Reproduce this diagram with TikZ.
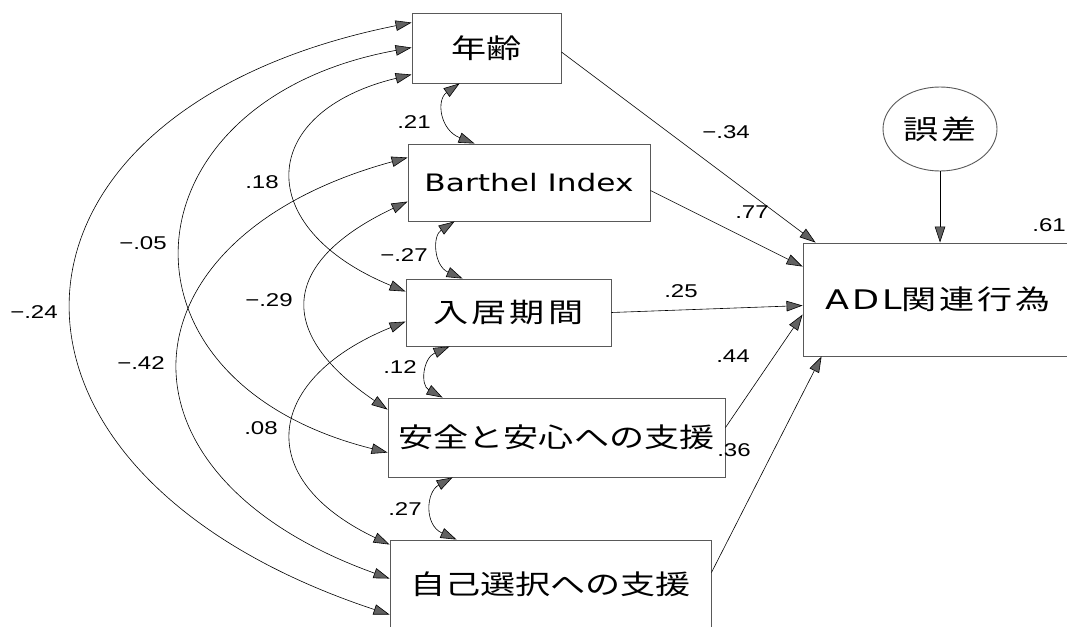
\documentclass[tikz,border=0pt]{standalone}
\usepackage{fontspec}
\usetikzlibrary{arrows.meta,shapes.geometric,calc}
\newfontfamily\jpf[FakeStretch=1.3]{Noto Sans CJK JP}
\newfontfamily\jpfw[FakeStretch=1.3,LetterSpace=11]{Noto Sans CJK JP}
\newfontfamily\latf[FakeStretch=1.3]{DejaVu Sans}
\newfontfamily\latfw[FakeStretch=1.3,LetterSpace=11]{DejaVu Sans}
\newfontfamily\numf[FakeStretch=1.3]{Liberation Sans}
\begin{document}
\begin{tikzpicture}[x=1pt,y=-1pt,
  >={Triangle[length=16pt,width=10.5pt,fill=black!62]},
  box/.style={draw=black!65,line width=0.9pt,inner sep=0pt,font=\jpf\fontsize{27}{30}\selectfont},
  lab/.style={inner sep=0pt,font=\numf\fontsize{18.5}{20}\selectfont},
  pth/.style={line width=0.6pt,->},
  cov/.style={line width=0.6pt,<->}]
\useasboundingbox (0,0) rectangle (1067,626);
\fill[white] (0,0) rectangle (1067,626);
% variables
\node[box,minimum width=149pt,minimum height=70pt] (nen) at (486.5,48) {年齢};
\node[box,minimum width=242pt,minimum height=77pt] (bar) at (529,182.5) {\latf\fontsize{24}{28}\selectfont Barthel Index};
\node[box,minimum width=205pt,minimum height=67pt] (nyu) at (508.5,312.5) {\jpfw 入居期間};
\node[box,minimum width=337pt,minimum height=79pt] (anz) at (556.5,437.5) {安全と安心への支援};
\node[box,minimum width=321pt,minimum height=88pt] (jik) at (550.5,584) {自己選択への支援};
\node[box,minimum width=270pt,minimum height=113pt] (adl) at (938,299.5) {{\latfw ADL}\jpfw 関連行為};
\node[box,ellipse,minimum width=114pt,minimum height=84pt] (err) at (940,129) {\jpfw 誤差};
% paths
\draw[pth] ($(nen.east)+(0,4)$) -- ($(adl.north west)+(13,0)$);
\draw[pth] ($(bar.east)+(0,8)$) -- ($(adl.north west)+(0,24)$);
\draw[pth] (nyu.east) -- ($(adl.north west)+(0,63)$);
\draw[pth] ($(anz.north east)+(0,30)$) -- ($(adl.north west)+(0,72)$);
\draw[pth] ($(jik.north east)+(0,33)$) -- ($(adl.south west)+(19,0)$);
\draw[pth] (err.south) -- (err.south |- adl.north);
% long covariances
\draw[cov] ($(nen.north west)+(0,10)$) .. controls (-25,110) and (-47,470) .. ($(jik.north west)+(0,75)$);
\draw[cov] ($(nen.north west)+(0,35)$) .. controls (122,100) and (98,380) .. ($(anz.north west)+(0,55)$);
\draw[cov] ($(nen.north west)+(0,62)$) .. controls (257,112) and (251,228) .. ($(nyu.north west)+(0,13)$);
\draw[cov] ($(bar.north west)+(0,58)$) .. controls (288,258) and (268,328) .. ($(anz.north west)+(0,12)$);
\draw[cov] ($(bar.north west)+(0,14)$) .. controls (116,237) and (98,474) .. ($(jik.north west)+(0,39)$);
\draw[cov] ($(nyu.north west)+(0,43)$) .. controls (266,378) and (250,478) .. ($(jik.north west)+(0,5)$);
% adjacent covariances
\draw[cov] ($(nen.south west)+(48,0)$) .. controls (436,100) and (440,130) .. ($(bar.north west)+(67,0)$);
\draw[cov] ($(bar.south west)+(47,0)$) .. controls (432,236) and (434,266) .. ($(nyu.north west)+(57,0)$);
\draw[cov] ($(nyu.south west)+(44,0)$) .. controls (423,358) and (420,385) .. ($(anz.north west)+(55,0)$);
\draw[cov] ($(anz.south west)+(65,0)$) .. controls (426,492) and (424,525) .. ($(jik.north west)+(67,0)$);
% labels
\node[lab] (c1) at (414,122) {.21};
\node[lab] (c2) at (404,255) {−.27};
\node[lab] (c3) at (400,367) {.12};
\node[lab] (c4) at (405,509) {.27};
\node[lab] (c5) at (262,182) {.18};
\node[lab] (c6) at (143,243) {−.05};
\node[lab] (c7) at (34,312) {−.24};
\node[lab] (c8) at (269,300) {−.29};
\node[lab] (c9) at (141,363) {−.42};
\node[lab] (c10) at (261,428) {.08};
\node[lab] (p1) at (726,132) {−.34};
\node[lab] (p2) at (752,212) {.77};
\node[lab] (p3) at (681,291) {.25};
\node[lab] (p4) at (733,356) {.44};
\node[lab] (p5) at (734,450) {.36};
\node[lab,anchor=east] (r2) at (1066,225) {.61};
\end{tikzpicture}
\end{document}
